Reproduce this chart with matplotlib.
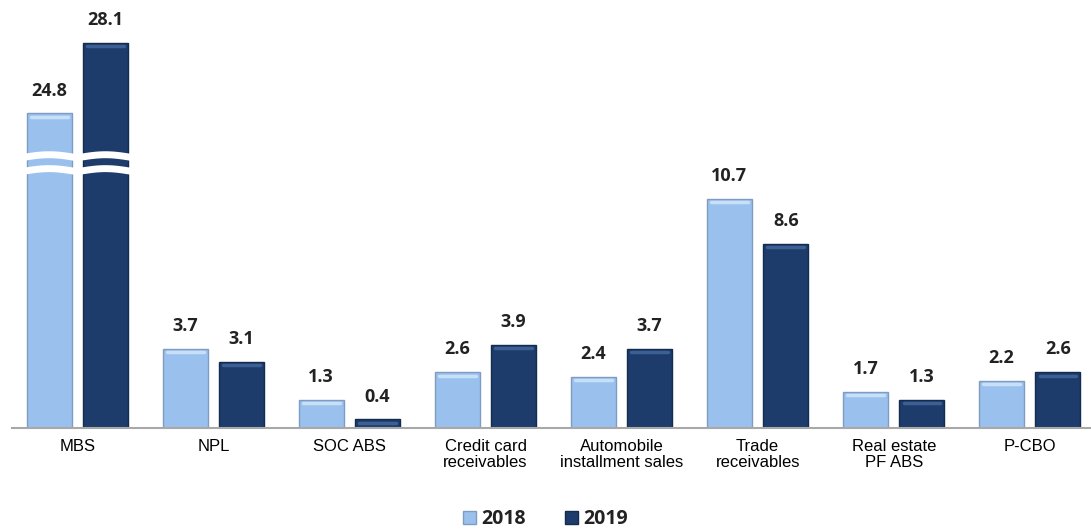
import matplotlib.pyplot as plt
import numpy as np
from matplotlib.patches import Patch

categories = ["MBS", "NPL", "SOC ABS", "Credit card\nreceivables",
              "Automobile\ninstallment sales", "Trade\nreceivables",
              "Real estate\nPF ABS", "P-CBO"]
v2018 = [24.8, 3.7, 1.3, 2.6, 2.4, 10.7, 1.7, 2.2]
v2019 = [28.1, 3.1, 0.4, 3.9, 3.7, 8.6, 1.3, 2.6]
years = ["2018", "2019"]

# broken axis: values above the break are drawn shifted down by this amount
CUT = 10.1
BREAK_AT = 12.0

light = "#9AC1EE"
dark = "#1D3C6B"
light_edge = "#7f9cc0"
dark_edge = "#132b4f"


def shown(v):
    return v - CUT if v > BREAK_AT + 2 else v


fig = plt.figure(figsize=(10.91, 5.30), dpi=100)
ax = fig.add_axes([12 / 1091, 102 / 530, 1 - 12 / 1091, 428 / 530])

x = np.arange(len(categories))
off = 0.207
w = 0.33

h18 = [shown(v) for v in v2018]
h19 = [shown(v) for v in v2019]
bars1 = ax.bar(x - off, h18, w, color=light, edgecolor=light_edge, linewidth=1.0, zorder=2)
bars2 = ax.bar(x + off, h19, w, color=dark, edgecolor=dark_edge, linewidth=1.0, zorder=2)

# little highlight on top of each bar
for bars, hl in ((bars1, "#c8dff8"), (bars2, "#3c5f94")):
    for b in bars:
        ax.plot([b.get_x() + 0.03, b.get_x() + b.get_width() - 0.03],
                [b.get_height() - 0.15] * 2, color=hl, lw=2.5,
                solid_capstyle="round", zorder=3)

# value labels
for bars, vals in ((bars1, v2018), (bars2, v2019)):
    for b, v in zip(bars, vals):
        ax.annotate(f"{v:.1f}", (b.get_x() + b.get_width() / 2, b.get_height()),
                    xytext=(0, 10), textcoords="offset points", ha="center",
                    va="bottom", fontsize=13, fontweight="bold",
                    family="Open Sans", color="#222222")

# break marks on the MBS bars
for xc in (x[0] - off, x[0] + off):
    xs = np.linspace(xc - w / 2 - 0.02, xc + w / 2 + 0.02, 60)
    t = (xs - xs[0]) / (xs[-1] - xs[0])
    for yb in (12.65, 12.0):
        ax.plot(xs, yb + 0.12 * np.sin(np.pi * t), color="white", lw=5, zorder=4)

ax.set_xlim(-0.48, 7.45)
ax.set_ylim(0, 20)
ax.set_xticks(x)
ax.set_xticklabels(categories, fontsize=12, family="Liberation Sans", linespacing=1.1)
ax.tick_params(axis="x", length=0, pad=8)
ax.set_yticks([])
for s in ("top", "right", "left"):
    ax.spines[s].set_visible(False)
ax.spines["bottom"].set_color("#a8a8a8")
ax.spines["bottom"].set_linewidth(1.5)

handles = [Patch(facecolor=light, edgecolor=light_edge), Patch(facecolor=dark, edgecolor=dark_edge)]
leg = fig.legend(handles, years, loc="center", bbox_to_anchor=(0.5, 0.02), ncol=2,
                 frameon=False, handlelength=0.65, handleheight=0.65, handletextpad=0.3,
                 columnspacing=2.0, prop={"family": "Open Sans", "weight": "bold", "size": 14})
for t in leg.get_texts():
    t.set_color("#222222")

fig.savefig("out.png", dpi=100)
